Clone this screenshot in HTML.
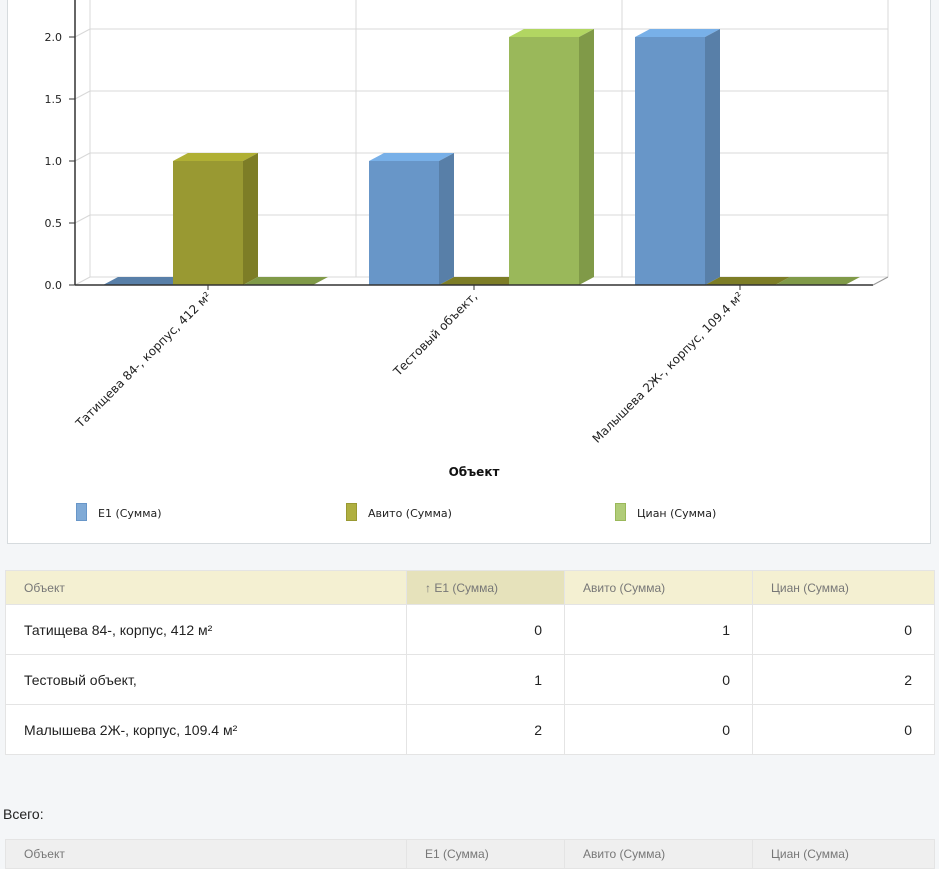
<!DOCTYPE html>
<html><head><meta charset="utf-8">
<style>
body{margin:0;width:939px;height:866px;background:#f4f6f8;font-family:"Liberation Sans",sans-serif;position:relative;overflow:hidden}
#panel{position:absolute;left:7px;top:-2px;width:922px;height:544px;background:#fff;border:1px solid #d6dbde;}
svg{position:absolute;left:0;top:0}
table{position:absolute;left:5px;top:570px;width:930px;border-collapse:collapse;background:#fff}
td,th{border:1px solid #e4e4e4;padding:0 18px;font-size:14px;color:#222}
th{font-weight:normal;font-size:12px;color:#777;text-align:left;height:33px;background:#f4f0d2}
th.sorted{background:#e6e2bb}
td{height:49px}
td.n{text-align:right;padding-right:22px}
#total{position:absolute;left:3px;top:806px;font-size:14px;color:#222}
#t2{top:839px}
#t2 th{background:#efefef;height:28px}
</style></head><body>
<div id="panel"></div>
<svg id="chart" width="939" height="545"></svg>
<table>
<tr><th style="width:364px">Объект</th><th class="sorted" style="width:121px">↑ E1 (Сумма)</th><th style="width:151px">Авито (Сумма)</th><th>Циан (Сумма)</th></tr>
<tr><td>Татищева 84-, корпус, 412 м²</td><td class="n">0</td><td class="n">1</td><td class="n">0</td></tr>
<tr><td>Тестовый объект,</td><td class="n">1</td><td class="n">0</td><td class="n">2</td></tr>
<tr><td>Малышева 2Ж-, корпус, 109.4 м²</td><td class="n">2</td><td class="n">0</td><td class="n">0</td></tr>
</table>
<div id="total">Всего:</div>
<table id="t2">
<tr><th style="width:364px">Объект</th><th style="width:121px">E1 (Сумма)</th><th style="width:151px">Авито (Сумма)</th><th>Циан (Сумма)</th></tr>
</table>
<script>
const categories=["Татищева 84-, корпус, 412 м²","Тестовый объект,","Малышева 2Ж-, корпус, 109.4 м²"];
const seriesNames=["E1 (Сумма)","Авито (Сумма)","Циан (Сумма)"];
const e1Values=[0,1,2];
const avitoValues=[1,0,0];
const cianValues=[0,2,0];
const yTicks=[0,0.5,1,1.5,2];
const series=[e1Values,avitoValues,cianValues];
const cols=[{f:"#6896c8",s:"#587fa8",t:"#78b0e8",l:"#80aad6"},{f:"#999932",s:"#7d7d26",t:"#b0b034",l:"#afaf40"},{f:"#9ab85a",s:"#809a48",t:"#b2d662",l:"#b0cc78"}];
const NS="http://www.w3.org/2000/svg",svg=document.getElementById('chart');
function el(t,a,p){const e=document.createElementNS(NS,t);for(const k in a)e.setAttribute(k,a[k]);(p||svg).appendChild(e);return e;}
const X0=75,X1=873,Y0=285,DX=15,DY=-8,unit=124;
const y=v=>Y0-v*unit;
const catW=(X1-X0)/categories.length;
const x=i=>X0+i*catW;
yTicks.forEach(v=>{
 let g=el('line',{x1:X0+DX,x2:X1+DX,y1:y(v)+DY,y2:y(v)+DY,stroke:"#d8d8d8"});
 
 el('line',{x1:X0,x2:X0+DX,y1:y(v),y2:y(v)+DY,stroke:"#d8d8d8"});
 el('line',{x1:X0-6,x2:X0,y1:y(v),y2:y(v),stroke:"#333"});
 let lb=el('text',{x:62,y:y(v)+4,"text-anchor":"end","font-size":11,"font-family":"DejaVu Sans,sans-serif",fill:"#222"});
 lb.textContent=v.toFixed(1);
 
});
for(let i=0;i<=categories.length;i++){el('line',{x1:x(i)+DX,x2:x(i)+DX,y1:-5,y2:Y0+DY,stroke:"#d8d8d8"});}
const pad=28,bw=(catW-2*pad)/3;
categories.forEach((c,ci)=>{
 series.forEach((s,si)=>{
  const v=s[ci],bx=x(ci)+pad+si*bw,by=y(v),co=cols[si];
  const g=el('g',{});
  
  el('polygon',{points:`${bx},${by} ${bx+DX},${by+DY} ${bx+bw+DX},${by+DY} ${bx+bw},${by}`,fill:v>0?co.t:co.s},g);
  if(v>0){
   el('rect',{x:bx,y:by,width:bw,height:Y0-by,fill:co.f},g);
   el('polygon',{points:`${bx+bw},${by} ${bx+bw+DX},${by+DY} ${bx+bw+DX},${Y0+DY} ${bx+bw},${Y0}`,fill:co.s},g);
  }
 });
 el('line',{x1:x(ci)+catW/2,x2:x(ci)+catW/2,y1:Y0,y2:Y0+5,stroke:"#333"});
 const tx=x(ci)+catW/2+4,ty=Y0+12;
 let lb=el('text',{x:tx,y:ty,"text-anchor":"end","font-size":12,"font-family":"DejaVu Sans,sans-serif",fill:"#222",transform:`rotate(-45 ${tx} ${ty})`});
 lb.textContent=c;
 
});
el('line',{x1:X0,x2:X0,y1:-5,y2:Y0,stroke:"#333","stroke-width":1.5});
el('line',{x1:X0,x2:X1,y1:Y0,y2:Y0,stroke:"#333","stroke-width":1.5});
el('line',{x1:X1,x2:X1+DX,y1:Y0,y2:Y0+DY,stroke:"#999"});
let at=el('text',{x:474,y:476,"text-anchor":"middle","font-size":12,"font-weight":"bold","font-family":"DejaVu Sans,sans-serif",fill:"#111"});
at.textContent="Объект";
const lx=[76,346,615];
seriesNames.forEach((n,i)=>{
 const g=el('g',{});
 
 el('rect',{x:lx[i]+0.5,y:503.5,width:10,height:17,fill:cols[i].l,stroke:cols[i].f},g);
 const t=el('text',{x:lx[i]+22,y:517,"font-size":11,"font-family":"DejaVu Sans,sans-serif",fill:"#222"},g);
 t.textContent=n;
});
</script>
</body></html>
